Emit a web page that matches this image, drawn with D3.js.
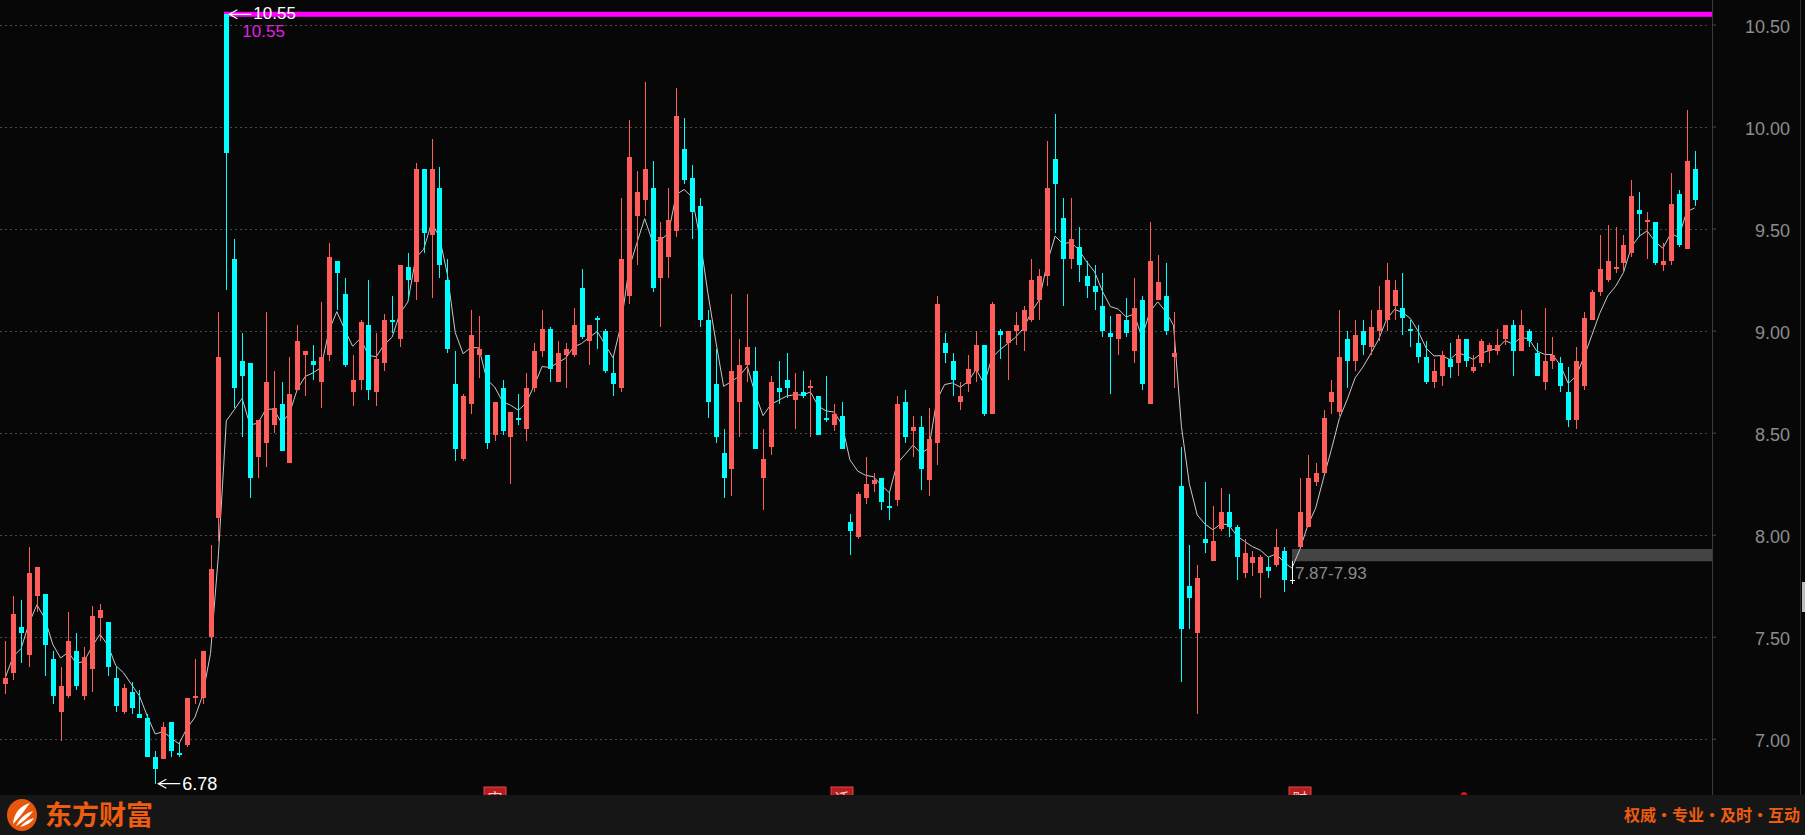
<!DOCTYPE html>
<html><head><meta charset="utf-8">
<script src="https://cdn.jsdelivr.net/npm/d3@7"></script>
<style>html,body{margin:0;padding:0;background:#070707;overflow:hidden}svg{display:block}</style>
</head><body><svg id="c" width="1805" height="835"></svg>
<script>
// ---------- data ----------
const categories = d3.range(215).map(i => "K" + (i + 1));
const opens = [
7.27,7.32,7.55,7.41,7.70,7.71,7.39,7.13,7.21,7.43,
7.21,7.34,7.59,7.57,7.30,7.13,7.23,7.12,7.10,6.91,
6.90,7.08,6.93,6.97,7.20,7.20,7.50,8.08,10.55,9.35,
8.85,8.84,8.38,8.45,8.54,8.64,8.35,8.71,8.88,8.85,
8.75,8.88,9.34,9.18,8.70,8.76,9.03,8.70,8.84,9.05,
8.96,9.31,9.24,9.79,9.47,9.70,9.25,8.74,8.37,8.64,
8.88,8.88,8.49,8.72,8.48,8.57,8.52,8.72,8.90,9.01,
8.75,8.88,8.88,9.21,8.95,9.06,9.00,8.79,8.72,9.17,
9.56,9.64,9.70,9.26,9.36,9.49,9.89,9.75,9.61,9.05,
8.74,8.40,8.32,8.65,8.83,8.80,8.28,8.43,8.72,8.76,
8.66,8.70,8.72,8.68,8.57,8.54,8.58,8.06,7.99,8.18,
8.25,8.28,8.14,8.17,8.65,8.51,8.53,8.27,8.45,8.94,
8.85,8.65,8.74,8.80,8.93,8.59,9.00,8.94,9.00,9.00,
9.05,9.15,9.27,9.84,9.55,9.35,9.41,9.27,9.22,9.12,
8.99,8.96,9.05,8.90,9.15,8.64,9.15,9.17,8.87,8.24,
7.75,7.52,7.98,7.87,8.03,8.11,8.04,7.81,7.86,7.81,
7.84,7.85,7.92,7.78,7.94,8.04,8.26,8.30,8.65,8.60,
8.96,8.85,9.00,8.92,9.00,9.05,9.12,9.11,9.01,8.94,
8.87,8.75,8.78,8.86,8.84,8.96,8.80,8.84,8.90,8.90,
8.96,9.03,8.90,9.00,8.89,8.75,8.85,8.84,8.70,8.56,
8.73,9.05,9.19,9.25,9.30,9.33,9.38,9.59,9.53,9.53,
9.32,9.34,9.67,9.40,9.79];
const highs = [
7.48,7.70,7.68,7.94,7.84,7.71,7.43,7.35,7.62,7.52,
7.45,7.65,7.66,7.57,7.35,7.27,7.28,7.24,7.12,6.94,
7.08,7.08,6.98,7.20,7.39,7.43,7.95,9.09,10.55,9.45,
8.99,8.84,8.56,9.09,8.80,8.75,8.87,9.03,8.90,8.93,
9.14,9.43,9.34,9.26,8.88,9.05,9.25,8.99,9.08,9.17,
9.32,9.38,9.82,9.79,9.94,9.80,9.35,8.90,8.69,9.10,
9.07,8.88,8.65,8.76,8.60,8.69,8.79,8.94,9.10,9.02,
8.95,8.94,9.11,9.30,9.03,9.07,9.01,8.87,9.65,10.03,
9.78,10.22,9.83,9.53,9.70,10.19,10.04,9.81,9.65,9.10,
8.91,8.52,9.18,8.96,9.18,8.92,8.52,8.78,8.85,8.89,
8.79,8.80,8.76,8.68,8.78,8.64,8.65,8.10,8.21,8.38,
8.30,8.28,8.21,8.68,8.71,8.58,8.58,8.62,9.17,8.99,
8.89,8.75,8.88,9.00,8.93,9.14,9.01,9.00,9.09,9.12,
9.35,9.30,9.93,10.06,9.65,9.65,9.51,9.34,9.32,9.28,
9.07,9.08,9.16,9.26,9.17,9.53,9.37,9.33,9.09,8.43,
7.95,7.85,8.26,8.14,8.23,8.20,8.05,7.98,7.92,7.90,
7.89,8.03,7.94,7.87,8.28,8.39,8.35,8.61,8.76,9.10,
9.00,9.05,9.05,9.10,9.22,9.33,9.25,9.28,9.05,9.03,
8.95,8.86,8.90,8.94,8.98,8.96,8.88,8.96,8.94,9.01,
9.03,9.05,9.10,9.01,8.94,9.11,8.97,8.87,8.82,8.92,
9.09,9.20,9.47,9.52,9.51,9.47,9.74,9.68,9.58,9.53,
9.43,9.77,9.69,10.08,9.88];
const lows = [
7.22,7.29,7.37,7.35,7.62,7.31,7.17,6.99,7.20,7.24,
7.19,7.23,7.48,7.31,7.13,7.12,7.12,7.10,6.91,6.78,
6.90,6.91,6.91,6.96,7.17,7.17,7.50,7.97,9.20,8.62,
8.48,8.18,8.28,8.33,8.50,8.41,8.35,8.71,8.68,8.76,
8.62,8.85,9.10,8.82,8.63,8.71,8.66,8.63,8.80,8.99,
8.92,9.15,9.15,9.38,9.16,9.26,8.89,8.36,8.36,8.59,
8.77,8.42,8.46,8.49,8.25,8.54,8.46,8.70,8.87,8.75,
8.75,8.72,8.87,8.96,8.83,8.91,8.79,8.68,8.70,9.13,
9.32,9.56,9.19,9.02,9.26,9.46,9.72,9.45,9.02,8.57,
8.45,8.18,8.19,8.48,8.75,8.42,8.12,8.39,8.64,8.67,
8.52,8.67,8.48,8.49,8.55,8.51,8.42,7.90,7.98,8.15,
8.21,8.12,8.07,8.14,8.45,8.38,8.22,8.19,8.34,8.84,
8.68,8.61,8.70,8.75,8.58,8.59,8.86,8.76,8.93,8.90,
9.04,9.05,9.22,9.48,9.12,9.30,9.24,9.16,9.10,8.97,
8.69,8.88,8.97,8.84,8.71,8.64,9.15,8.98,8.72,7.28,
7.54,7.12,7.91,7.87,8.02,7.99,7.78,7.79,7.80,7.69,
7.79,7.84,7.72,7.76,7.94,8.04,8.24,8.30,8.59,8.58,
8.72,8.80,8.88,8.88,8.95,9.00,9.05,8.98,8.92,8.84,
8.74,8.72,8.73,8.77,8.78,8.82,8.79,8.82,8.84,8.88,
8.93,8.78,8.90,8.92,8.78,8.71,8.81,8.70,8.53,8.52,
8.71,9.05,9.17,9.24,9.28,9.29,9.36,9.46,9.35,9.32,
9.29,9.32,9.41,9.40,9.61];
const closes = [
7.30,7.61,7.52,7.81,7.84,7.46,7.21,7.26,7.48,7.26,
7.40,7.60,7.63,7.35,7.16,7.25,7.15,7.10,6.91,6.85,
7.06,6.94,6.92,7.20,7.21,7.43,7.83,8.87,9.87,8.72,
8.78,8.28,8.56,8.75,8.62,8.41,8.69,8.95,8.90,8.83,
8.87,9.36,9.28,8.83,8.76,9.04,8.71,8.86,9.05,9.04,
9.32,9.25,9.79,9.48,9.79,9.32,8.91,8.42,8.68,8.98,
8.91,8.45,8.65,8.51,8.60,8.56,8.72,8.90,9.01,8.81,
8.89,8.91,9.03,8.97,9.03,9.05,8.80,8.74,9.35,9.85,
9.68,9.79,9.21,9.46,9.54,10.05,9.74,9.58,9.05,8.65,
8.48,8.28,8.80,8.83,8.92,8.42,8.37,8.75,8.70,8.72,
8.70,8.68,8.73,8.49,8.56,8.59,8.42,8.02,8.20,8.25,
8.27,8.16,8.13,8.64,8.48,8.53,8.32,8.47,9.13,8.89,
8.76,8.68,8.81,8.93,8.59,9.13,8.98,9.00,9.03,9.10,
9.25,9.27,9.70,9.72,9.35,9.45,9.32,9.22,9.19,9.00,
8.97,9.08,8.99,9.11,8.74,9.34,9.24,9.00,8.89,7.54,
7.69,7.79,7.96,7.97,8.11,8.04,7.89,7.91,7.89,7.89,
7.82,7.94,7.78,7.78,8.11,8.28,8.30,8.57,8.70,8.87,
8.85,8.98,8.93,9.02,9.10,9.25,9.20,9.06,9.00,8.87,
8.75,8.80,8.88,8.82,8.96,8.85,8.82,8.95,8.93,8.93,
9.03,8.90,9.03,8.95,8.78,8.85,8.88,8.73,8.56,8.85,
9.06,9.19,9.30,9.34,9.31,9.42,9.66,9.57,9.54,9.33,
9.34,9.62,9.42,9.83,9.64];
const yTicks = [7.00, 7.50, 8.00, 8.50, 9.00, 9.50, 10.00, 10.50];
const highMark = 10.55;          // highest price, index 28
const lowMark = 6.78;            // lowest price, index 19
const zoneRange = [7.87, 7.93];  // grey zone, starts at index 163
const zoneStart = 163;
const eventIdx = [62, 106, 164];
const eventText = ["审", "迁", "财"];
const maPeriod = 5;

// ---------- layout ----------
const W = 1805, H = 835, plotR = 1712, plotB = 795;
const svg = d3.select("#c");
const x = d3.scaleLinear().domain([0, categories.length - 1]).range([5.3, 1694.5]);
const y = d3.scaleLinear().domain([7.0, 10.5]).range([738.8, 24.5]);
const numFont = "'Liberation Sans', Arial, sans-serif";
const cjkFont = "'Noto Sans CJK SC', sans-serif";
const UP = "#ff5d5a", DOWN = "#00ffff", FLAT = "#ffffff";

svg.append("rect").attr("width", W).attr("height", H).attr("fill", "#070707");

// grid
svg.append("g").selectAll("line").data(yTicks).join("line")
  .attr("x1", 0).attr("x2", plotR - 2)
  .attr("y1", d => Math.round(y(d)) + 0.5).attr("y2", d => Math.round(y(d)) + 0.5)
  .attr("stroke", "#4a4a4a").attr("stroke-width", 1).attr("stroke-dasharray", "2,3");

// grey zone
svg.append("rect")
  .attr("x", Math.round(x(zoneStart))).attr("width", plotR - Math.round(x(zoneStart)))
  .attr("y", y(zoneRange[1])).attr("height", y(zoneRange[0]) - y(zoneRange[1]))
  .attr("fill", "#444444");

// high line
svg.append("rect")
  .attr("x", Math.round(x(28)) - 2).attr("width", plotR - Math.round(x(28)) + 2)
  .attr("y", y(highMark) - 2.5).attr("height", 5).attr("fill", "#ff00ff");

// EMA line of closes
const ma = [];
closes.forEach((c, i) => { ma.push(i === 0 ? c : ma[i - 1] + (c - ma[i - 1]) * 2 / (maPeriod + 1)); });
svg.append("path").datum(ma)
  .attr("d", d3.line().x((d, i) => x(i)).y(d => y(d)))
  .attr("fill", "none").attr("stroke", "#c8c8c8").attr("stroke-width", 1);

// candles
const candles = categories.map((c, i) => ({ i, o: opens[i], h: highs[i], l: lows[i], c: closes[i] }));
const col = d => d.c > d.o ? UP : (d.c < d.o ? DOWN : FLAT);
const g = svg.append("g").attr("shape-rendering", "crispEdges");
g.selectAll("line.w").data(candles).join("line").attr("class", "w")
  .attr("x1", d => Math.round(x(d.i)) + 0.5).attr("x2", d => Math.round(x(d.i)) + 0.5)
  .attr("y1", d => y(d.h)).attr("y2", d => y(d.l))
  .attr("stroke", col).attr("stroke-width", 1);
g.selectAll("rect.b").data(candles).join("rect").attr("class", "b")
  .attr("x", d => Math.round(x(d.i)) - 2).attr("width", 5)
  .attr("y", d => y(Math.max(d.o, d.c)))
  .attr("height", d => Math.max(1.5, Math.abs(y(d.o) - y(d.c))))
  .attr("fill", col);

// high label
const hx = x(28), hy = y(highMark);
function arrow(x0, y0) {
  svg.append("path")
    .attr("d", `M${x0 + 22},${y0}H${x0}M${x0 + 8},${y0 - 4.5}L${x0},${y0}L${x0 + 8},${y0 + 4.5}`)
    .attr("stroke", "#ffffff").attr("stroke-width", 1.2).attr("fill", "none");
}
arrow(hx + 3, hy);
svg.append("text").attr("x", hx + 27).attr("y", hy - 1).attr("dy", "0.36em")
  .attr("font-family", numFont).attr("font-size", 17).attr("fill", "#ffffff")
  .text(d3.format(".2f")(highMark));
svg.append("text").attr("x", hx + 16).attr("y", hy + 17).attr("dy", "0.36em")
  .attr("font-family", numFont).attr("font-size", 17).attr("fill", "#e020e0")
  .text(d3.format(".2f")(highMark));

// low label
const lx = x(19), ly = y(lowMark);
arrow(lx + 3, ly);
svg.append("text").attr("x", lx + 27).attr("y", ly).attr("dy", "0.36em")
  .attr("font-family", numFont).attr("font-size", 18).attr("fill", "#ffffff")
  .text(d3.format(".2f")(lowMark));

// zone label
svg.append("text").attr("x", x(zoneStart) + 3).attr("y", y(zoneRange[0]) + 12).attr("dy", "0.36em")
  .attr("font-family", numFont).attr("font-size", 17).attr("fill", "#8a8a8a")
  .text(d3.format(".2f")(zoneRange[0]) + "-" + d3.format(".2f")(zoneRange[1]));

// axis
svg.append("line").attr("x1", plotR + 0.5).attr("x2", plotR + 0.5).attr("y1", 0).attr("y2", plotB)
  .attr("stroke", "#3a3a3a");
svg.append("line").attr("x1", 1800.5).attr("x2", 1800.5).attr("y1", 0).attr("y2", plotB)
  .attr("stroke", "#2e2e2e");
svg.append("rect").attr("x", 1802).attr("y", 582).attr("width", 3).attr("height", 30).attr("fill", "#bbbbbb");
const ax = svg.append("g").attr("transform", `translate(${plotR},0)`)
  .call(d3.axisRight(y).tickValues(yTicks).tickFormat(d3.format(".2f")).tickSize(4).tickPadding(0));
ax.select(".domain").remove();
ax.selectAll(".tick line").attr("stroke", "#4a4a4a");
ax.selectAll(".tick text").attr("x", 78).attr("text-anchor", "end").attr("dy", "0.45em")
  .attr("font-family", numFont).attr("font-size", 18).attr("fill", "#8c8c8c");

// event markers
const ev = svg.append("g");
eventIdx.forEach((k, j) => {
  const cx = Math.round(x(k));
  ev.append("rect").attr("x", cx - 11).attr("y", 787).attr("width", 22).attr("height", 22)
    .attr("fill", "#b81c1c").attr("stroke", "#e04848").attr("stroke-width", 1);
  ev.append("text").attr("x", cx).attr("y", 804).attr("text-anchor", "middle")
    .attr("font-family", cjkFont).attr("font-size", 15).attr("fill", "#f0d0d0").text(eventText[j]);
});
svg.append("circle").attr("cx", 1464).attr("cy", 795).attr("r", 3).attr("fill", "#e01010");

// bottom bar
svg.append("rect").attr("x", 0).attr("y", plotB).attr("width", W).attr("height", H - plotB).attr("fill", "#161616");
const logo = svg.append("g").attr("transform", "translate(22,815)");
logo.append("ellipse").attr("rx", 15).attr("ry", 16).attr("fill", "#e8580c");
logo.append("path").attr("d", "M-9,9 C-8,-2 -2,-9 8,-12 C3,-6 0,0 -9,9Z").attr("fill", "#ffffff");
logo.append("path").attr("d", "M-6,11 C-2,3 4,-2 11,-4 C7,2 2,6 -6,11Z").attr("fill", "#ffffff");
logo.append("path").attr("d", "M-2,12 C2,7 7,4 12,3 C9,8 5,10 -2,12Z").attr("fill", "#ffffff");
svg.append("text").attr("x", 45).attr("y", 825).attr("font-family", cjkFont).attr("font-weight", 700)
  .attr("font-size", 27).attr("fill", "#ee5c10").text("东方财富");
svg.append("text").attr("x", 1800).attr("y", 821).attr("text-anchor", "end").attr("font-family", cjkFont)
  .attr("font-weight", 700).attr("font-size", 16)
  .attr("fill", "#ee5c10").text("权威·专业·及时·互动");
</script></body></html>
